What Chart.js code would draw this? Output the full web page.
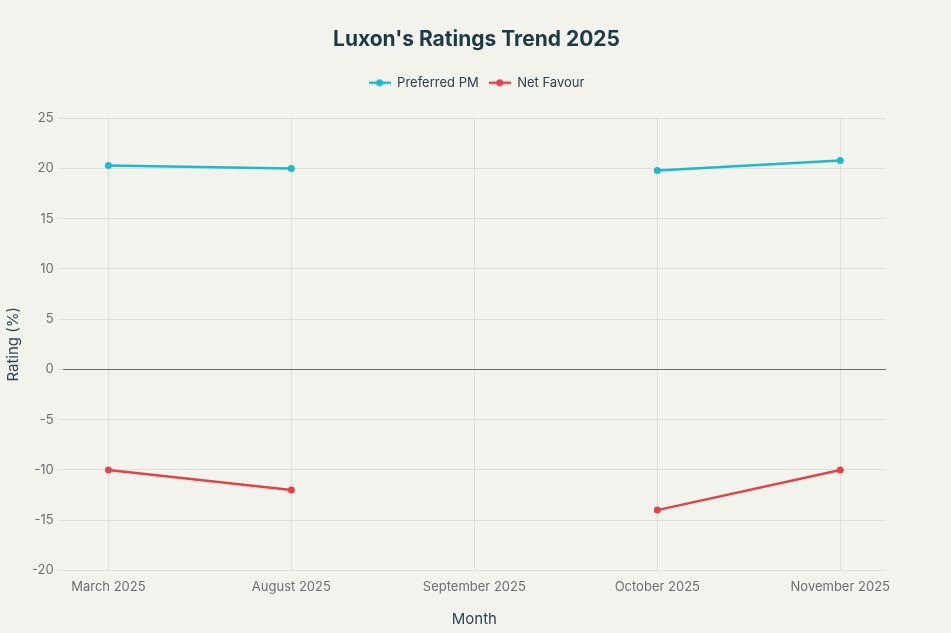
<!DOCTYPE html>
<html>
<head>
<meta charset="utf-8">
<script src="https://cdn.jsdelivr.net/npm/chart.js@4"></script>
<style>
    html, body { margin: 0; padding: 0; background: #f3f3ee; }
    #wrap { width: 951px; height: 633px; }
</style>
</head>
<body>
<div id="wrap"><canvas id="ratingsChart"></canvas></div>
<script>
const months = ['March 2025', 'August 2025', 'September 2025', 'October 2025', 'November 2025'];
const preferredPM = [20.3, 20.0, null, 19.8, 20.8];
const netFavour = [-10, -12, null, -14, -10];
const yTicks = [-20, -15, -10, -5, 0, 5, 10, 15, 20, 25];

const cyan = '#1fb8cd';
const red = '#e04449';

// Legend swatch: short line with a dot in the middle
function legendSwatch(color) {
    const c = document.createElement('canvas');
    c.width = 22;
    c.height = 10;
    const g = c.getContext('2d');
    g.strokeStyle = color;
    g.lineWidth = 2.5;
    g.beginPath();
    g.moveTo(0, 5);
    g.lineTo(22, 5);
    g.stroke();
    g.fillStyle = color;
    g.beginPath();
    g.arc(11, 5, 3.5, 0, Math.PI * 2);
    g.fill();
    return c;
}

function toPoints(values) {
    return values.map((v, i) => ({ x: i, y: v }));
}

// Extra room under the legend
const legendSpacer = {
    id: 'legendSpacer',
    beforeInit(chart) {
        const origFit = chart.legend.fit;
        chart.legend.fit = function () {
            origFit.bind(chart.legend)();
            this.height += 19;
        };
    }
};

const ctx = document.getElementById('ratingsChart').getContext('2d');
new Chart(ctx, {
    type: 'line',
    data: {
        datasets: [{
            label: 'Preferred PM',
            data: toPoints(preferredPM),
            borderColor: cyan,
            backgroundColor: cyan,
            borderWidth: 2.5,
            pointRadius: 3.5,
            pointBorderWidth: 0,
            pointHoverRadius: 5,
            spanGaps: false,
            tension: 0
        }, {
            label: 'Net Favour',
            data: toPoints(netFavour),
            borderColor: red,
            backgroundColor: red,
            borderWidth: 2.5,
            pointRadius: 3.5,
            pointBorderWidth: 0,
            pointHoverRadius: 5,
            spanGaps: false,
            tension: 0
        }]
    },
    options: {
        responsive: true,
        maintainAspectRatio: false,
        animation: false,
        layout: { padding: { left: 2, right: 0, top: 23, bottom: 1 } },
        plugins: {
            title: {
                display: true,
                text: "Luxon's Ratings Trend 2025",
                color: '#1c3a44',
                font: { family: 'Inter', size: 21, weight: 'bold' },
                padding: { top: 4, bottom: 14 }
            },
            legend: {
                labels: {
                    color: '#2b3f47',
                    font: { family: 'Inter', size: 13 },
                    usePointStyle: true,
                    pointStyleWidth: 22,
                    boxHeight: 10,
                    padding: 10,
                    generateLabels: chart => chart.data.datasets.map((ds, i) => ({
                        text: ds.label,
                        datasetIndex: i,
                        pointStyle: legendSwatch(ds.borderColor),
                        fontColor: '#2b3f47',
                        lineWidth: 0,
                        hidden: false
                    }))
                }
            },
            tooltip: { enabled: false }
        },
        scales: {
            x: {
                type: 'linear',
                min: -0.25,
                max: 4.25,
                afterBuildTicks: axis => {
                    axis.ticks = months.map((m, i) => ({ value: i }));
                },
                afterFit: axis => {
                    axis.paddingRight = 65;
                },
                ticks: {
                    color: '#6b6f70',
                    font: { family: 'Inter', size: 13 },
                    padding: 9,
                    maxRotation: 0,
                    callback: value => months[value]
                },
                grid: {
                    color: 'rgba(0, 0, 0, 0.08)',
                    drawTicks: false
                },
                border: { display: false },
                title: {
                    display: true,
                    text: 'Month',
                    color: '#2b4650',
                    font: { family: 'Inter', size: 15 },
                    padding: { top: 6 }
                }
            },
            y: {
                min: -20,
                max: 25,
                afterBuildTicks: axis => {
                    axis.ticks = yTicks.map(v => ({ value: v }));
                },
                ticks: {
                    color: '#6b6f70',
                    font: { family: 'Inter', size: 13 },
                    padding: 4
                },
                grid: {
                    color: c => c.tick && c.tick.value === 0 ? 'rgba(0, 0, 0, 0.55)' : 'rgba(0, 0, 0, 0.08)',
                    lineWidth: 1,
                    tickLength: 5,
                    tickColor: 'rgba(0, 0, 0, 0.08)'
                },
                border: { display: false },
                title: {
                    display: true,
                    text: 'Rating (%)',
                    color: '#2b4650',
                    font: { family: 'Inter', size: 15 },
                    padding: { top: 2, bottom: 6 }
                }
            }
        }
    },
    plugins: [legendSpacer]
});
</script>
</body>
</html>
